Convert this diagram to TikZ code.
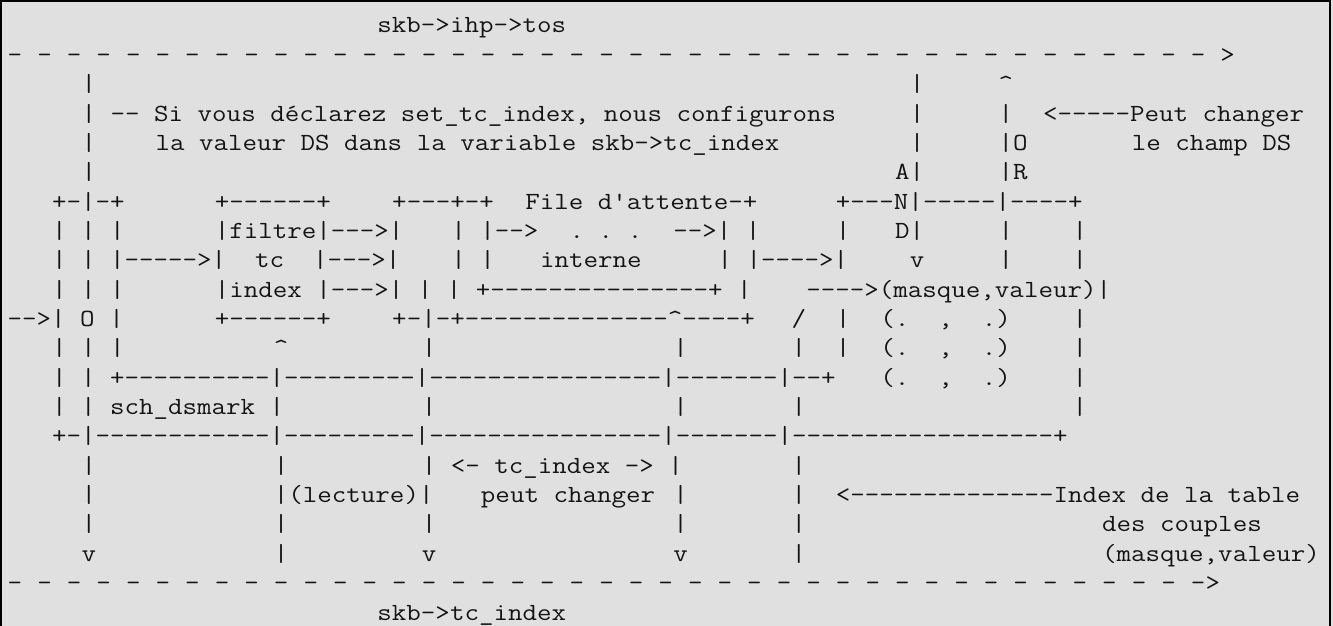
\documentclass[tikz,border=0pt]{standalone}
\usepackage{fontspec}
\usepackage{graphicx}
\definecolor{bggray}{RGB}{224,224,224}
\definecolor{inkc}{RGB}{20,20,20}
\newcommand\ascfont{\fontsize{24.67}{29}\selectfont\ttfamily}
\tikzset{asc/.style={anchor=base west, inner sep=0pt, outer sep=0pt, font=\ascfont, text=inkc}}
\newcommand\seg[3]{\node[asc] (r#2c#1) at ({7.7+14.79*#1},{33+29.35*#2}) {\scalebox{1.142}[1]{#3}};}
\newcommand\caretch{\textasciicircum}
\begin{document}
\begin{tikzpicture}[x=1pt,y=-1pt]
\useasboundingbox (0,0) rectangle (1333,626);
\fill[bggray] (0,0) rectangle (1333,626);
\draw[line width=2pt,black] (1,626) -- (1,1) -- (1329.5,1) -- (1329.5,626);
% row 0
\seg{25}{0}{skb->ihp->tos}
% row 1
\foreach \i in {0,...,40} {\pgfmathtruncatemacro\cc{2*\i}\seg{\cc}{1}{-}}
\seg{82}{1}{>}
% row 2
\seg{5}{2}{|}\seg{61}{2}{|}\seg{67}{2}{\caretch}
% row 3
\seg{5}{3}{|~--~Si~vous~déclarez~set\_tc\_index,~nous~configurons}
\seg{61}{3}{|}\seg{67}{3}{|}\seg{70}{3}{<-----Peut~changer}
% row 4
\seg{5}{4}{|}\seg{10}{4}{la~valeur~DS~dans~la~variable~skb->tc\_index}
\seg{61}{4}{|}\seg{67}{4}{|O}\seg{76}{4}{le~champ~DS}
% row 5
\seg{5}{5}{|}\seg{60}{5}{A|}\seg{67}{5}{|R}
% row 6
\seg{3}{6}{+-|-+}\seg{14}{6}{+------+}\seg{26}{6}{+---+-+}
\seg{35}{6}{File~d'attente-+}\seg{56}{6}{+---N|-----|----+}
% row 7
\seg{3}{7}{|~|~|}\seg{14}{7}{|filtre|--->|}\seg{30}{7}{|~|-->}
\seg{38}{7}{.~.~.}\seg{45}{7}{-->|~|}\seg{56}{7}{|}\seg{60}{7}{D|}
\seg{67}{7}{|}\seg{72}{7}{|}
% row 8
\seg{3}{8}{|~|~|----->|~~tc~~|--->|}\seg{30}{8}{|~|}\seg{36}{8}{interne}
\seg{48}{8}{|~|---->|}\seg{61}{8}{v}\seg{67}{8}{|}\seg{72}{8}{|}
% row 9
\seg{3}{9}{|~|~|}\seg{14}{9}{|index~|--->|~|~|~+---------------+~|}
\seg{54}{9}{---->(masque,valeur)|}
% row 10
\seg{0}{10}{-->|~O~|}\seg{14}{10}{+------+}
\seg{26}{10}{+-|-+--------------\caretch----+}
\seg{53}{10}{/}\seg{56}{10}{|}\seg{59}{10}{(.~~,~~.)}\seg{72}{10}{|}
% row 11
\seg{3}{11}{|~|~|}\seg{18}{11}{\caretch}\seg{28}{11}{|}\seg{45}{11}{|}
\seg{53}{11}{|}\seg{56}{11}{|}\seg{59}{11}{(.~~,~~.)}\seg{72}{11}{|}
% row 12
\seg{3}{12}{|~|~+----------|---------|----------------|-------|--+}
\seg{59}{12}{(.~~,~~.)}\seg{72}{12}{|}
% row 13
\seg{3}{13}{|~|~sch\_dsmark~|}\seg{28}{13}{|}\seg{45}{13}{|}\seg{53}{13}{|}\seg{72}{13}{|}
% row 14
\seg{3}{14}{+-|------------|---------|----------------|-------|------------------+}
% row 15
\seg{5}{15}{|}\seg{18}{15}{|}\seg{28}{15}{|~<-~tc\_index~->~|}\seg{53}{15}{|}
% row 16
\seg{5}{16}{|}\seg{18}{16}{|(lecture)|}\seg{32}{16}{peut~changer}\seg{45}{16}{|}
\seg{53}{16}{|}\seg{56}{16}{<--------------Index~de~la~table}
% row 17
\seg{5}{17}{|}\seg{18}{17}{|}\seg{28}{17}{|}\seg{45}{17}{|}\seg{53}{17}{|}\seg{74}{17}{des~couples}
% row 18
\seg{5}{18}{v}\seg{18}{18}{|}\seg{28}{18}{v}\seg{45}{18}{v}\seg{53}{18}{|}\seg{74}{18}{(masque,valeur)}
% row 19
\foreach \i in {0,...,40} {\pgfmathtruncatemacro\cc{2*\i}\seg{\cc}{19}{-}}
\seg{81}{19}{>}
% row 20
\seg{25}{20}{skb->tc\_index}
\end{tikzpicture}
\end{document}
